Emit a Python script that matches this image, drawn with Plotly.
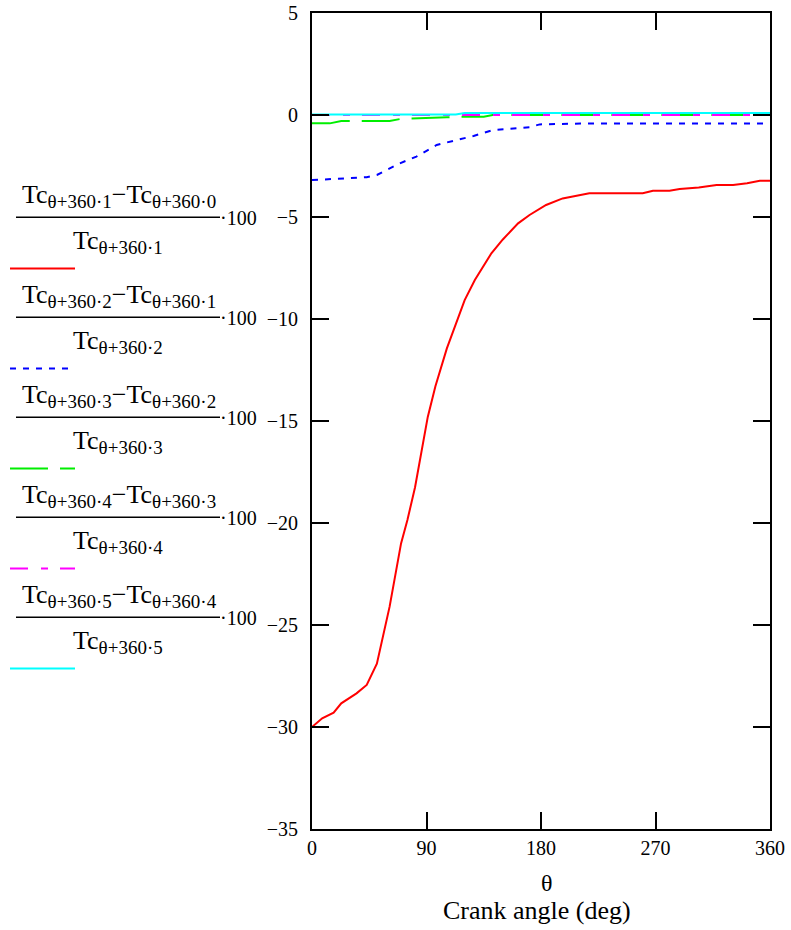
import plotly.graph_objects as go

# ---------------- data ----------------
theta_1 = [0, 8, 17, 23, 35, 43, 51, 57, 61, 70, 75, 81, 91, 97, 106, 120, 128, 141, 150, 162, 171, 184, 197, 218, 260, 268, 281, 289, 304, 318, 331, 342, 352, 360]
diff_1 = [-30.0, -29.57, -29.3, -28.84, -28.35, -27.94, -26.9, -25.2, -24.1, -21.0, -19.85, -18.25, -14.8, -13.3, -11.44, -9.07, -8.09, -6.78, -6.1, -5.31, -4.9, -4.41, -4.09, -3.84, -3.84, -3.71, -3.71, -3.63, -3.55, -3.43, -3.43, -3.35, -3.22, -3.22]

theta_2 = [0, 43, 51, 69, 82, 98, 116, 127, 142, 153, 171, 179, 211, 360]
diff_2 = [-3.19, -3.05, -2.94, -2.37, -2.04, -1.47, -1.19, -1.03, -0.74, -0.69, -0.6, -0.46, -0.42, -0.42]

theta_3 = [0, 14, 23, 61, 69, 95, 106, 122, 135, 142, 360]
diff_3 = [-0.41, -0.41, -0.29, -0.29, -0.2, -0.16, -0.11, -0.08, -0.08, 0.0, 0.0]

theta_4 = [0, 360]
diff_4 = [0.0, 0.0]

theta_5 = [0, 113, 120, 360]
diff_5 = [0.02, 0.02, 0.1, 0.1]

x_ticks = [0, 90, 180, 270, 360]
y_ticks = [5, 0, -5, -10, -15, -20, -25, -30, -35]

upper_index = ["1", "2", "3", "4", "5"]
lower_index = ["0", "1", "2", "3", "4"]

colors = ["#ff0000", "#0000ff", "#00ee00", "#ff00ff", "#00ffff"]
dashes = ["solid", "6px,7px", "38px,12px", "18px,13px,7px,12px", "solid"]

series = [(theta_1, diff_1), (theta_2, diff_2), (theta_3, diff_3), (theta_4, diff_4), (theta_5, diff_5)]

FONT = "Liberation Serif"

# ---------------- layout geometry (screen pixels) ----------------
W, H = 791, 930
L, R, T, B = 312, 770, 13, 829
pw, ph = R - L, B - T


def px(x):
    return (x - L) / pw


def py(y):
    return (B - y) / ph


fig = go.Figure()
for (xs, ys), c, d in zip(series, colors, dashes):
    fig.add_trace(go.Scatter(x=xs, y=ys, mode="lines",
                             line=dict(color=c, width=2, dash=d),
                             hoverinfo="skip"))

axis_common = dict(
    showline=True, linecolor="black", linewidth=2, mirror="ticks",
    ticks="inside", ticklen=17, tickwidth=2, tickcolor="black",
    showgrid=False, zeroline=False, automargin=False,
    ticklabeloverflow="allow",
    tickfont=dict(family=FONT, size=20, color="black"),
)

fig.update_layout(
    width=W, height=H,
    margin=dict(l=L, r=W - R, t=T, b=H - B, pad=0),
    plot_bgcolor="white", paper_bgcolor="white",
    showlegend=False,
    xaxis=dict(range=[0, 360], tickvals=x_ticks, ticklabelstandoff=0, **axis_common),
    yaxis=dict(range=[-35, 5], tickvals=y_ticks, ticklabelstandoff=8, **axis_common),
)

annotations = []
shapes = []

# axis title (two lines)
annotations.append(dict(x=px(547), y=py(883), xref="paper", yref="paper", text="θ",
                        showarrow=False, font=dict(family=FONT, size=24, color="black"),
                        xanchor="center", yanchor="middle"))
annotations.append(dict(x=px(537), y=py(910), xref="paper", yref="paper", text="Crank angle (deg)",
                        showarrow=False, font=dict(family=FONT, size=26, color="black"),
                        xanchor="center", yanchor="middle"))

SUB = '<sub><span style="font-size:19px">{}</span></sub>'

# Mathcad-style legend with fractions
for i in range(5):
    yl = 217.3 + 100 * i
    ys = 268.5 + 100 * i
    up, lo = upper_index[i], lower_index[i]
    num = "Tc" + SUB.format(f"θ+360·{up}") + "−Tc" + SUB.format(f"θ+360·{lo}")
    den = "Tc" + SUB.format(f"θ+360·{up}")
    annotations.append(dict(x=px(119), y=py(yl - 4), xref="paper", yref="paper", text=num,
                            showarrow=False, font=dict(family=FONT, size=26, color="black"),
                            xanchor="center", yanchor="bottom", borderpad=0))
    annotations.append(dict(x=px(118), y=py(yl + 8), xref="paper", yref="paper", text=den,
                            showarrow=False, font=dict(family=FONT, size=26, color="black"),
                            xanchor="center", yanchor="top", borderpad=0))
    annotations.append(dict(x=px(219), y=py(yl + 1), xref="paper", yref="paper", text="·100",
                            showarrow=False, font=dict(family=FONT, size=20, color="black"),
                            xanchor="left", yanchor="middle", borderpad=0))
    shapes.append(dict(type="line", xref="paper", yref="paper",
                       x0=px(16), x1=px(220), y0=py(yl), y1=py(yl),
                       line=dict(color="black", width=1.5)))
    shapes.append(dict(type="line", xref="paper", yref="paper",
                       x0=px(10), x1=px(75), y0=py(ys), y1=py(ys),
                       line=dict(color=colors[i], width=2, dash=dashes[i])))

fig.update_layout(annotations=annotations, shapes=shapes)

# remove the default 8px page margin so the figure sits at the window's top-left corner
fig.write_html("out.html", config={"displayModeBar": False},
               post_script="document.body.style.margin='0';")
